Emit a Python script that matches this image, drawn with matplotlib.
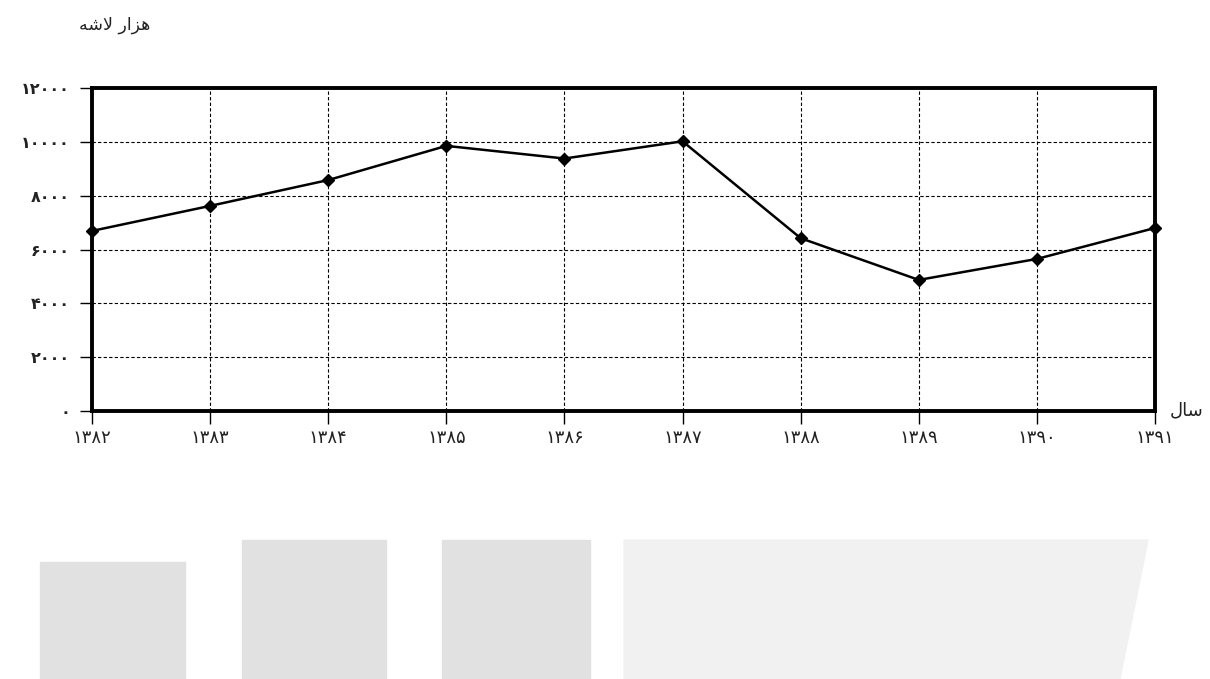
import matplotlib
matplotlib.use('Agg')
import matplotlib.pyplot as plt
from matplotlib.patches import Rectangle, Polygon

# data (thousand carcasses per year)
years = ['1382', '1383', '1384', '1385', '1386', '1387', '1388', '1389', '1390', '1391']
values = [6690, 7620, 8580, 9850, 9380, 10020, 6420, 4870, 5650, 6800]
y_ticks = [0, 2000, 4000, 6000, 8000, 10000, 12000]

# persian digits
fa_digits = str.maketrans('0123456789', '۰۱۲۳۴۵۶۷۸۹')
def fa(s):
    return str(s).translate(fa_digits)

# arabic text in shaped presentation forms, visual order
y_title = 'ﻪﺷﻻ ﺭﺍﺰﻫ'   # hazar lasheh
x_title = 'ﻝﺎﺳ'          # sal

plt.rcParams['font.family'] = ['DejaVu Sans']

fig = plt.figure(figsize=(12.1, 6.79), dpi=100)

# faint watermark blocks at bottom of the page
fig.patches.append(Rectangle((40/1210, 0), 145/1210, 117/679, transform=fig.transFigure,
                             color='#e1e1e1', zorder=0))
fig.patches.append(Rectangle((242/1210, 0), 144/1210, 139/679, transform=fig.transFigure,
                             color='#e1e1e1', zorder=0))
fig.patches.append(Rectangle((442/1210, 0), 148/1210, 139/679, transform=fig.transFigure,
                             color='#e1e1e1', zorder=0))
fig.patches.append(Polygon([(624/1210, 0), (1120/1210, 0), (1148/1210, 139/679), (624/1210, 139/679)],
                           closed=True, transform=fig.transFigure, color='#f1f1f1', zorder=0))

ax = fig.add_axes([92/1210, 1 - 411/679, (1155 - 92)/1210, (411 - 88)/679])
ax.patch.set_alpha(0)

x = list(range(len(years)))
ax.plot(x, values, color='black', lw=1.8, marker='D', markersize=6.5, zorder=3, clip_on=False)

ax.set_xlim(0, len(years) - 1)
ax.set_ylim(0, 12000)
ax.set_xticks(x)
ax.set_xticklabels([fa(y) for y in years], fontsize=13, color='#222222')
ax.set_yticks(y_ticks)
ax.set_yticklabels([fa(v) for v in y_ticks], fontsize=11.5, fontweight='bold', color='#222222')
ax.tick_params(axis='both', direction='out', length=9, width=1, color='black')
ax.tick_params(axis='x', pad=4)
ax.tick_params(axis='y', pad=7)

ax.grid(True, color='black', linestyle=(0, (3, 2)), lw=0.8)
for s in ax.spines.values():
    s.set_linewidth(2.8)
    s.set_color('black')

fig.text(150/1210, 1 - 25/679, y_title, ha='right', va='center', fontsize=12.5, color='#222222')
fig.text(1170/1210, 1 - 410/679, x_title, ha='left', va='center', fontsize=13, color='#222222')

fig.savefig('out.png', dpi=100, facecolor='white')
